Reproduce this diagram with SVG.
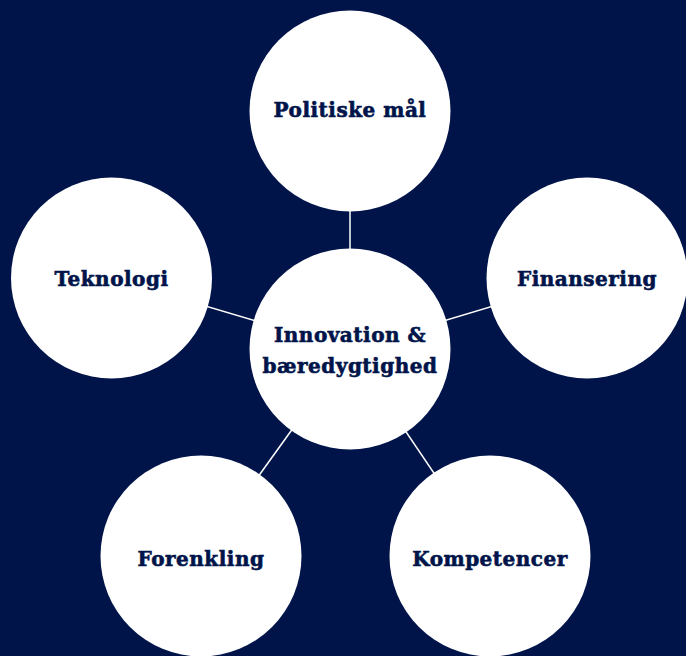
<svg xmlns="http://www.w3.org/2000/svg" width="686" height="656" viewBox="0 0 686 656">
<style>
.bg{fill:#00144a}
.node circle{fill:#ffffff}
.node text{fill:#00144a;stroke:#00144a;stroke-width:0.6;font-family:"DejaVu Serif","Liberation Serif",serif;font-weight:bold;font-size:20px;letter-spacing:0.5px;text-anchor:middle}
.conn line{stroke:#ffffff;stroke-width:1.5}
</style>
<rect class="bg" x="0" y="0" width="686" height="656"/>
<g id="connectors" class="conn">
<line x1="350" y1="349" x2="350" y2="111"/>
<line x1="350" y1="349" x2="111" y2="278"/>
<line x1="350" y1="349" x2="587" y2="278"/>
<line x1="350" y1="349" x2="201" y2="556"/>
<line x1="350" y1="349" x2="490" y2="556"/>
</g>
<g id="node-center" class="node">
<circle cx="350" cy="349" r="100.5"/>
<text x="350" y="342">Innovation &amp;</text>
<text x="350" y="373">bæredygtighed</text>
</g>
<g id="node-politiske" class="node">
<circle cx="350" cy="111" r="100.5"/>
<text x="350" y="117">Politiske mål</text>
</g>
<g id="node-teknologi" class="node">
<circle cx="111.5" cy="278" r="100.5"/>
<text x="111.5" y="286">Teknologi</text>
</g>
<g id="node-finansering" class="node">
<circle cx="587" cy="278" r="100.5"/>
<text x="587" y="286">Finansering</text>
</g>
<g id="node-forenkling" class="node">
<circle cx="201" cy="556" r="100.5"/>
<text x="201" y="566">Forenkling</text>
</g>
<g id="node-kompetencer" class="node">
<circle cx="490" cy="556" r="100.5"/>
<text x="490" y="566">Kompetencer</text>
</g>
</svg>
